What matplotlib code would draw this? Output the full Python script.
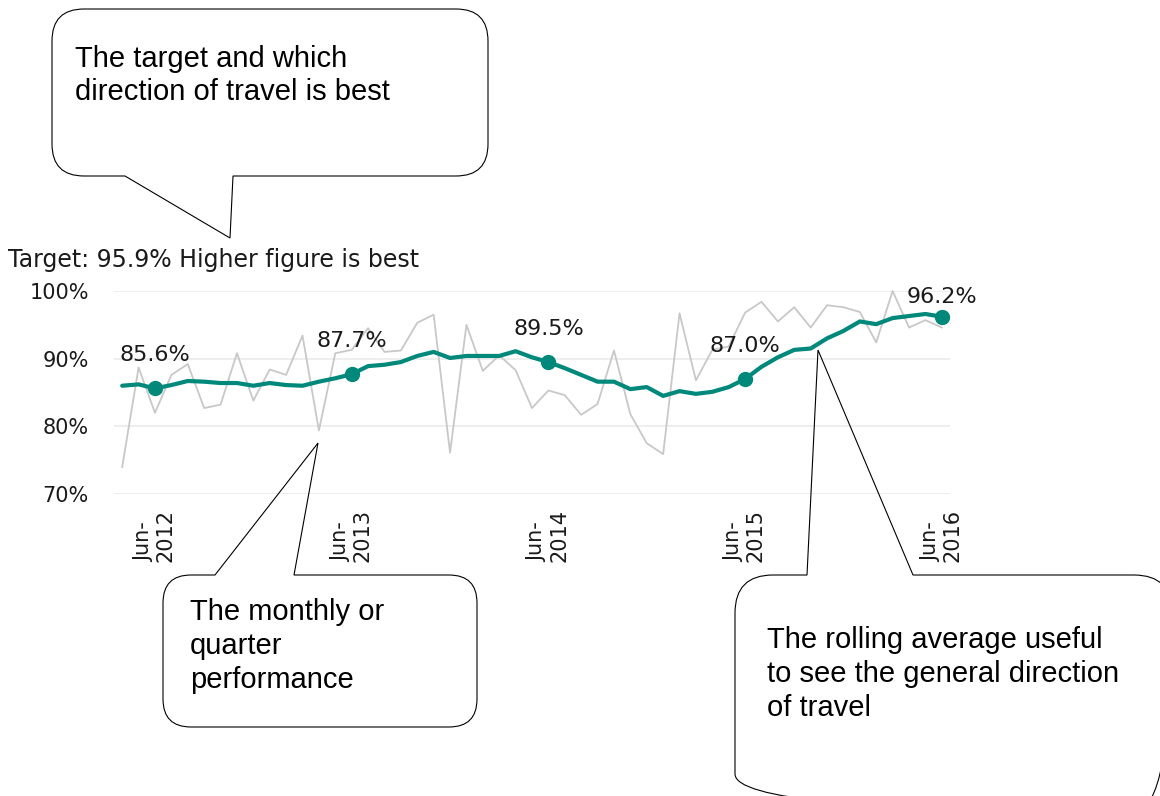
import matplotlib
matplotlib.use("Agg")
import matplotlib.pyplot as plt
import pandas as pd
from matplotlib.path import Path
from matplotlib.patches import PathPatch

# --- Data ---
months = pd.date_range("2012-04-01", "2016-06-01", freq="MS")

monthly = [74.0, 88.7, 82.0, 87.6, 89.2, 82.7, 83.2, 90.8, 83.8, 88.4,
           87.6, 93.4, 79.4, 90.8, 91.3, 94.5, 91.0, 91.2, 95.3, 96.5,
           76.1, 95.0, 88.2, 90.5, 88.3, 82.7, 85.3, 84.6, 81.7, 83.3,
           91.2, 81.8, 77.5, 75.9, 96.7, 86.8, 91.3, 91.8, 96.8, 98.4,
           95.5, 97.6, 94.6, 97.9, 97.6, 96.9, 92.4, 100.0, 94.6, 95.7,
           94.6]

rolling = [86.0, 86.2, 85.6, 86.1, 86.7, 86.6, 86.4, 86.4, 86.0, 86.4,
           86.1, 86.0, 86.6, 87.1, 87.7, 88.9, 89.1, 89.5, 90.4, 91.0,
           90.1, 90.4, 90.4, 90.4, 91.1, 90.2, 89.5, 88.6, 87.6, 86.6,
           86.6, 85.5, 85.8, 84.5, 85.2, 84.8, 85.1, 85.8, 87.0, 88.8,
           90.2, 91.3, 91.5, 93.0, 94.1, 95.5, 95.1, 96.0, 96.3, 96.6,
           96.2]

y_ticks = [70, 80, 90, 100]
target_text = "Target: 95.9% Higher figure is best"

notes = [
    ["The target and which", "direction of travel is best"],
    ["The monthly or", "quarter", "performance"],
    ["The rolling average useful", "to see the general direction", "of travel"],
]

TEAL = "#00897B"
GREY = "#C8C8C8"
W, H = 1160, 796


def px(x, y):
    # pixel coords (top-left origin) -> figure fraction
    return (x / W, 1 - y / H)


def callout(fig, x0, y0, x1, y1, r, side, b1, b2, tip):
    verts, codes = [], []

    def add(pt, code):
        verts.append(px(*pt))
        codes.append(code)

    add((x0 + r, y0), Path.MOVETO)
    if side == "top":
        add((b1, y0), Path.LINETO)
        add(tip, Path.LINETO)
        add((b2, y0), Path.LINETO)
    add((x1 - r, y0), Path.LINETO)
    add((x1, y0), Path.CURVE3)
    add((x1, y0 + r), Path.CURVE3)
    add((x1, y1 - r), Path.LINETO)
    add((x1, y1), Path.CURVE3)
    add((x1 - r, y1), Path.CURVE3)
    if side == "bottom":
        add((b2, y1), Path.LINETO)
        add(tip, Path.LINETO)
        add((b1, y1), Path.LINETO)
    add((x0 + r, y1), Path.LINETO)
    add((x0, y1), Path.CURVE3)
    add((x0, y1 - r), Path.CURVE3)
    add((x0, y0 + r), Path.LINETO)
    add((x0, y0), Path.CURVE3)
    add((x0 + r, y0), Path.CURVE3)
    patch = PathPatch(Path(verts, codes), transform=fig.transFigure,
                      facecolor="none", edgecolor="black", lw=0.8,
                      zorder=10, clip_on=False)
    fig.add_artist(patch)


fig = plt.figure(figsize=(W / 100, H / 100), dpi=100)
ax = fig.add_axes([114 / W, (H - 494) / H, (950 - 114) / W, (494 - 291) / H])

x = list(range(len(months)))
ax.plot(x, monthly, color=GREY, lw=1.3, zorder=2, clip_on=False)
ax.plot(x, rolling, color=TEAL, lw=3, zorder=3, solid_capstyle="round")

# June markers with labels
jun_idx = [i for i, m in enumerate(months) if m.month == 6]
jun_vals = [rolling[i] for i in jun_idx]
ax.plot(jun_idx, jun_vals, "o", color=TEAL, ms=10, zorder=4, clip_on=False)
for k, (i, v) in enumerate(zip(jun_idx, jun_vals)):
    off = 14 if k == len(jun_idx) - 1 else 24
    ax.annotate(f"{v:.1f}%", (i, v), xytext=(0, off), textcoords="offset points",
                ha="center", va="center", fontsize=16, color="#1a1a1a")

ax.set_xlim(-0.5, len(months) - 0.5)
ax.set_ylim(70, 100)
ax.set_yticks(y_ticks)
ax.set_yticklabels([f"{t}%" for t in y_ticks])
ax.set_xticks(jun_idx)
ax.set_xticklabels([f"Jun-\n{months[i].year}" for i in jun_idx], rotation=90,
                   multialignment="left", linespacing=1.1)
ax.tick_params(axis="y", length=0, pad=18, labelsize=15, labelcolor="#1a1a1a")
ax.tick_params(axis="x", length=0, pad=11, labelsize=15, labelcolor="#1a1a1a")
ax.yaxis.grid(True, color="#EBEBEB", lw=1.2)
ax.set_axisbelow(True)
for s in ax.spines.values():
    s.set_visible(False)

fig.text(*px(8, 260), target_text, fontsize=17, va="center", color="#1a1a1a")

# callout boxes
callout(fig, 52, 9, 488, 176, 32, "bottom", 125, 233, (230, 238))
callout(fig, 163, 575, 477, 727, 28, "top", 215, 294, (318, 443))
callout(fig, 735, 575, 1172, 812, 38, "top", 807, 913, (818, 350))

note_pos = [(75, [67, 100]), (190, [620, 654, 688]), (767, [648, 682, 716])]
for lines, (tx, baselines) in zip(notes, note_pos):
    for line, by in zip(lines, baselines):
        fig.text(*px(tx, by), line, fontsize=21, family="Liberation Sans",
                 va="baseline", ha="left", zorder=11)

fig.savefig("out.png", dpi=100)
